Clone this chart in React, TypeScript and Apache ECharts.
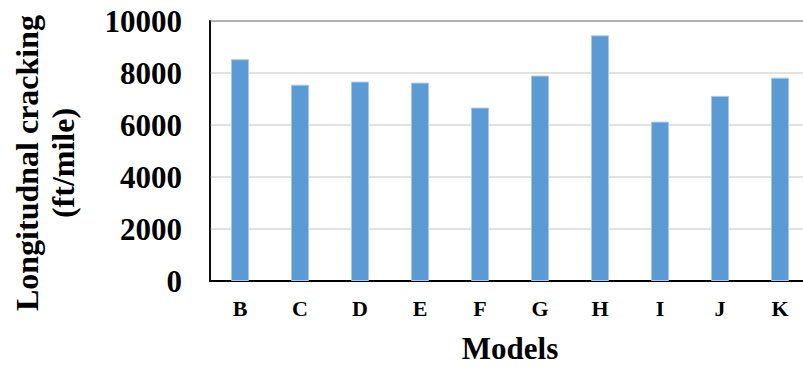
import React, { useEffect, useRef } from "react";
import * as echarts from "echarts";

const categories = ["B", "C", "D", "E", "F", "G", "H", "I", "J", "K"];
const cracking = [8530, 7550, 7670, 7630, 6670, 7900, 9450, 6130, 7120, 7820];
const yMin = 0;
const yMax = 10000;
const yInterval = 2000;

const FONT = "'Liberation Serif', 'Times New Roman', serif";

export default function App() {
  const ref = useRef<HTMLDivElement>(null);
  useEffect(() => {
    if (!ref.current) return;
    const chart = echarts.init(ref.current, undefined, { renderer: "svg" });
    chart.setOption({
      animation: false,
      backgroundColor: "#ffffff",
      grid: {
        left: 210,
        top: 21,
        right: -7,
        bottom: 86,
        show: true,
        borderColor: "#000000",
        borderWidth: 1.5,
        containLabel: false,
        outerBoundsMode: "none",
      },
      xAxis: {
        type: "category",
        data: categories,
        axisLine: { show: true, lineStyle: { color: "#000000", width: 2 } },
        axisTick: { show: false },
        axisLabel: {
          color: "#000000",
          fontFamily: FONT,
          fontWeight: "bold",
          fontSize: 22,
          margin: 16,
        },
        name: "Models",
        nameLocation: "middle",
        nameGap: 52,
        nameTextStyle: {
          color: "#000000",
          fontFamily: FONT,
          fontWeight: "bold",
          fontSize: 31,
        },
      },
      yAxis: {
        type: "value",
        min: yMin,
        max: yMax,
        interval: yInterval,
        axisLine: { show: true, lineStyle: { color: "#000000", width: 1.5 } },
        axisTick: { show: false },
        splitLine: { lineStyle: { color: "#d9d9d9", width: 1.5 } },
        axisLabel: {
          color: "#000000",
          fontFamily: FONT,
          fontWeight: "bold",
          fontSize: 31,
          margin: 28,
          formatter: (v: number) => String(v),
        },
      },
      graphic: [
        {
          type: "text",
          x: 45,
          y: 163,
          rotation: Math.PI / 2,
          style: {
            text: "Longitudnal cracking\n(ft/mile)",
            fill: "#000000",
            font: `bold 32px ${FONT}`,
            textAlign: "center",
            textVerticalAlign: "middle",
            lineHeight: 36,
          },
        },
      ],
      series: [
        {
          type: "bar",
          data: cracking,
          barWidth: 18,
          itemStyle: {
            color: "#5b9bd5",
            borderColor: "#a7c8ea",
            borderWidth: 1,
          },
        },
      ],
    });
    return () => chart.dispose();
  }, []);
  return (
    <div
      ref={ref}
      style={{ position: "fixed", left: 0, top: 0, width: 803, height: 367, background: "#fff" }}
    />
  );
}
